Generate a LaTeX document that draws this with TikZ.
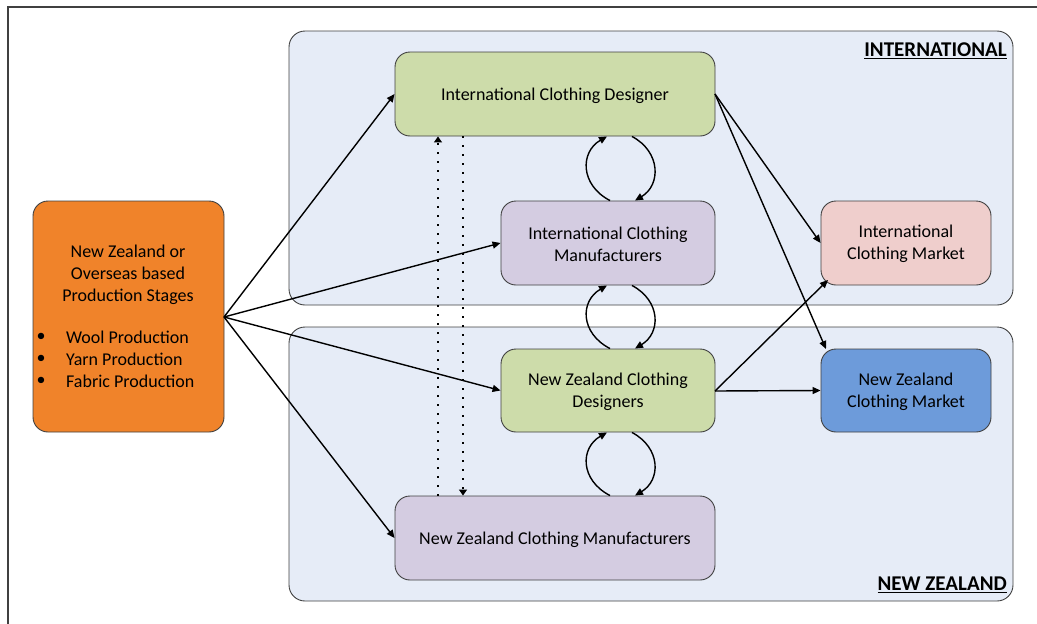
\documentclass[tikz,border=0pt]{standalone}
\usepackage{fontspec}
\setmainfont{Carlito}
\usetikzlibrary{arrows.meta}
\definecolor{regionfill}{HTML}{E6ECF7}
\definecolor{framegray}{HTML}{404040}
\definecolor{orangebox}{HTML}{F0832A}
\definecolor{greenbox}{HTML}{CDDCAA}
\definecolor{purplebox}{HTML}{D4CCE1}
\definecolor{pinkbox}{HTML}{EFCECC}
\definecolor{bluebox}{HTML}{6D9BDA}
\begin{document}
\begin{tikzpicture}[x=1pt,y=-1pt,
  region/.style={draw=framegray,line width=0.9pt,fill=regionfill,rounded corners=16pt},
  box/.style={draw=framegray,line width=0.9pt,rounded corners=15pt,inner sep=0pt},
  txt/.style={inner sep=0pt,align=center,font=\fontsize{18}{22}\selectfont},
  flow/.style={line width=1.4pt,-{Triangle[length=8pt,width=7pt]}},
  dotflow/.style={line width=1.3pt,dash pattern=on 1.3pt off 7.7pt,-{Triangle[length=6pt,width=8pt]}},
  tag/.style={inner sep=0pt,anchor=east,font=\fontsize{21}{25}\selectfont\bfseries}]
\useasboundingbox (0,0) rectangle (1037,624);
% outer frame
\draw[line width=1.2pt,framegray] (8,7) rectangle (1060,650);
% regions
\draw[region] (289,31) rectangle (1013,305);
\draw[region] (289,327) rectangle (1013,601);
\node[tag] (intl) at (1007,51) {\underline{INTERNATIONAL}};
\node[tag] (nz) at (1007,585) {\underline{NEW ZEALAND}};
% boxes
\node[box,fill=orangebox,minimum width=191pt,minimum height=231pt] (prod) at (128.5,316.5) {};
\node[box,fill=greenbox,minimum width=320pt,minimum height=84pt] (icd) at (555,94) {};
\node[box,fill=purplebox,minimum width=214pt,minimum height=84pt] (icm) at (608,243) {};
\node[box,fill=pinkbox,minimum width=170pt,minimum height=84pt] (imk) at (906,243) {};
\node[box,fill=greenbox,minimum width=214pt,minimum height=83pt] (nzd) at (608,390.5) {};
\node[box,fill=bluebox,minimum width=170pt,minimum height=83pt] (nmk) at (906,390.5) {};
\node[box,fill=purplebox,minimum width=320pt,minimum height=84pt] (nzm) at (555,538) {};
% box texts
\node[txt] (prodtitle) at (128,275) {New Zealand or\\Overseas based\\Production Stages};
\node[txt] (b1) at (41,337) {\textbullet};
\node[txt] (b2) at (41,359) {\textbullet};
\node[txt] (b3) at (41,381) {\textbullet};
\node[txt,anchor=west] (l1) at (66,337) {Wool Production};
\node[txt,anchor=west] (l2) at (66,359) {Yarn Production};
\node[txt,anchor=west] (l3) at (66,381) {Fabric Production};
\node[txt] (icdtext) at (555,96) {International Clothing Designer};
\node[txt] (icmtext) at (608,244) {International Clothing\\Manufacturers};
\node[txt] (imktext) at (906,244) {International\\Clothing Market};
\node[txt] (nzdtext) at (608,392) {New Zealand Clothing\\Designers};
\node[txt] (nmktext) at (906,392) {New Zealand\\Clothing Market};
\node[txt] (nzmtext) at (555,540) {New Zealand Clothing Manufacturers};
% supply flows
\coordinate (src) at (224,317);
\draw[flow] (src) -- (icd.west);
\draw[flow] (src) -- (icm.west);
\draw[flow] (src) -- (nzd.west);
\draw[flow] (src) -- (nzm.west);
% design / manufacture loops
\draw[flow] (610,0 |- icm.north) .. controls (580,185) and (580,152) .. (607,0 |- icd.south);
\draw[flow] (632,0 |- icd.south) .. controls (661,152) and (661,185) .. (635,0 |- icm.north);
\draw[flow] (610,0 |- nzd.north) .. controls (580,333) and (580,301) .. (607,0 |- icm.south);
\draw[flow] (632,0 |- icm.south) .. controls (661,301) and (661,333) .. (635,0 |- nzd.north);
\draw[flow] (610,0 |- nzm.north) .. controls (580,480) and (580,448) .. (607,0 |- nzd.south);
\draw[flow] (632,0 |- nzd.south) .. controls (661,448) and (661,480) .. (635,0 |- nzm.north);
% dotted links
\draw[dotflow] (438,0 |- nzm.north) -- (438,0 |- icd.south);
\draw[dotflow] (463,0 |- icd.south) -- (463,0 |- nzm.north);
% market flows
\coordinate (icdout) at (715,94);
\coordinate (nzdout) at (715,391);
\draw[flow] (icdout) -- (imk.west);
\draw[flow] (icdout) -- (826,349);
\draw[flow] (nzdout) -- (nmk.west);
\draw[flow] (nzdout) -- (828,280);
\end{tikzpicture}
\end{document}
